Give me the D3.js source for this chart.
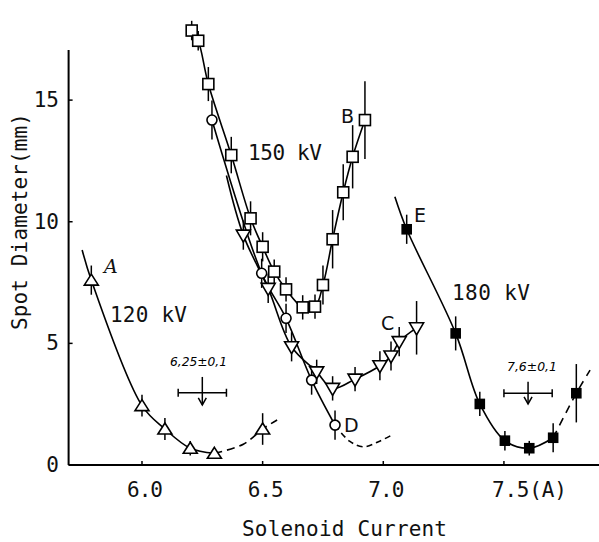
<!DOCTYPE html>
<html><head><meta charset="utf-8">
<script src="https://cdn.jsdelivr.net/npm/d3@7"></script>
<style>body{margin:0;background:#fff}</style>
</head><body>
<svg id="c" width="599" height="542"></svg>
<script>
// ---- axis ticks ----
const xTicks = [6.0, 6.5, 7.0, 7.5];
const xTickLabels = ["6.0", "6.5", "7.0", "7.5(A)"];
const yTicks = [0, 5, 10, 15];
const yTickLabels = ["0", "5", "10", "15"];

// ---- series A (120 kV, open up-triangles) ----
const aX   = [5.79, 6.00, 6.095, 6.20, 6.30, 6.50];
const aY   = [7.60, 2.44, 1.48, 0.69, 0.48, 1.48];
const aErr = [0.6, 0.45, 0.45, 0.3, 0.15, 0.65];
const aLineSolid = [[5.752, 8.84], [5.79, 7.60], [6.00, 2.44], [6.095, 1.48], [6.20, 0.69], [6.30, 0.48]];
const aLineDash  = [[6.30, 0.48], [6.42, 0.85], [6.50, 1.48], [6.56, 1.85]];

// ---- series B (150 kV, open squares) ----
const bX   = [6.206, 6.233, 6.275, 6.37, 6.45, 6.50, 6.548, 6.597, 6.666, 6.717, 6.75, 6.79, 6.834, 6.873, 6.924];
const bY   = [17.86, 17.44, 15.66, 12.74, 10.14, 8.97, 7.95, 7.22, 6.48, 6.51, 7.40, 9.28, 11.21, 12.67, 14.18];
const bErr = [0.4, 0.4, 0.7, 0.75, 0.7, 0.6, 0.5, 0.5, 0.5, 0.5, 0.8, 1.2, 1.15, 1.3, 1.6];

// ---- series C (150 kV, open down-triangles) ----
const cX   = [6.42, 6.523, 6.62, 6.724, 6.79, 6.883, 6.986, 7.032, 7.066, 7.138];
const cY   = [9.45, 7.26, 4.86, 3.83, 3.15, 3.53, 4.08, 4.48, 5.07, 5.64];
const cErr = [0.6, 0.6, 0.6, 0.5, 0.5, 0.5, 0.6, 0.6, 0.6, 1.1];
const cLineStart = [6.35, 11.9];

// ---- series D (150 kV, open circles) ----
const dX   = [6.29, 6.496, 6.597, 6.703, 6.80];
const dY   = [14.18, 7.88, 6.03, 3.49, 1.64];
const dErr = [0.8, 0.6, 0.6, 0.6, 0.6];
const dLineDash = [[6.80, 1.64], [6.86, 0.98], [6.917, 0.75], [6.98, 0.96], [7.035, 1.23]];

// ---- series E (180 kV, filled squares) ----
const eX   = [7.097, 7.30, 7.40, 7.504, 7.605, 7.704, 7.80];
const eY   = [9.69, 5.41, 2.51, 1.00, 0.69, 1.12, 2.95];
const eErr = [0.6, 0.7, 0.5, 0.4, 0.3, 0.6, 1.2];
const eLineStart = [7.048, 11.03];
const eLineDashEnd = [7.857, 3.9];

// ---- focus annotations [centre, ±, barY, arrowTop, arrowBottom] ----
const focusA = [6.25, 0.1, 2.97, 3.62, 2.47];
const focusE = [7.60, 0.1, 2.95, 3.42, 2.51];

const svg = d3.select("#c");
const x = d3.scaleLinear().domain([5.7, 7.894]).range([69.6, 599]);
const y = d3.scaleLinear().domain([0, 17.06]).range([465, 50]);
const MONO = "'DejaVu Sans Mono', monospace";

// axes
svg.append("line").attr("x1", x(5.7) - 1).attr("x2", 599).attr("y1", y(0)).attr("y2", y(0))
  .attr("stroke", "#000").attr("stroke-width", 2);
svg.append("line").attr("x1", x(5.7) - 1).attr("x2", x(5.7) - 1).attr("y1", y(0)).attr("y2", y(17.06))
  .attr("stroke", "#000").attr("stroke-width", 2);

xTicks.forEach((t, i) => {
  svg.append("line").attr("x1", x(t)).attr("x2", x(t)).attr("y1", y(0)).attr("y2", y(0) - 4)
    .attr("stroke", "#000").attr("stroke-width", 1.5);
  const lab = xTickLabels[i];
  const txt = svg.append("text").attr("y", 497).attr("font-family", MONO).attr("font-size", 21)
    .attr("fill", "#111").text(lab);
  if (lab.length > 3) txt.attr("x", x(t) - 12).attr("text-anchor", "start").attr("textLength", 75);
  else txt.attr("x", x(t) + 3).attr("text-anchor", "middle").attr("textLength", 36);
});
yTicks.forEach((t, i) => {
  svg.append("line").attr("x1", x(5.7) - 1).attr("x2", x(5.7) + 3).attr("y1", y(t)).attr("y2", y(t))
    .attr("stroke", "#000").attr("stroke-width", 1.5);
  svg.append("text").attr("x", 59).attr("y", y(t) + 7).attr("text-anchor", "end")
    .attr("font-family", MONO).attr("font-size", 21).attr("fill", "#111").text(yTickLabels[i]);
});

svg.append("text").attr("x", 242).attr("y", 536).attr("font-family", MONO).attr("font-size", 21)
  .attr("textLength", 205).attr("lengthAdjust", "spacing").attr("fill", "#111").text("Solenoid Current");
svg.append("text").attr("transform", "translate(27,330) rotate(-90)")
  .attr("font-family", MONO).attr("font-size", 21).attr("textLength", 217).attr("lengthAdjust", "spacing")
  .attr("fill", "#111").text("Spot Diameter(mm)");

// helpers
const pts = (xs, ys) => xs.map((v, i) => [v, ys[i]]);
const curve = d3.line().x(d => x(d[0])).y(d => y(d[1])).curve(d3.curveCatmullRom.alpha(0.5));
function drawLine(data, dash) {
  svg.append("path").attr("d", curve(data)).attr("fill", "none").attr("stroke", "#000")
    .attr("stroke-width", 1.6).attr("stroke-dasharray", dash || null);
}
function drawErr(xs, ys, es) {
  xs.forEach((v, i) => {
    svg.append("line").attr("x1", x(v)).attr("x2", x(v)).attr("y1", y(ys[i] - es[i])).attr("y2", y(ys[i] + es[i]))
      .attr("stroke", "#000").attr("stroke-width", 1.5);
  });
}
function markers(xs, ys, kind) {
  xs.forEach((v, i) => {
    const cx = x(v), cy = y(ys[i]);
    let el;
    if (kind === "tri") {
      el = svg.append("path").attr("d", `M${cx},${cy - 6}L${cx + 7},${cy + 5}L${cx - 7},${cy + 5}Z`);
    } else if (kind === "tridown") {
      el = svg.append("path").attr("d", `M${cx - 7},${cy - 5}L${cx + 7},${cy - 5}L${cx},${cy + 7}Z`);
    } else if (kind === "sq") {
      el = svg.append("rect").attr("x", cx - 5.5).attr("y", cy - 5.5).attr("width", 11).attr("height", 11);
    } else if (kind === "circ") {
      el = svg.append("circle").attr("cx", cx).attr("cy", cy).attr("r", 5);
    } else {
      el = svg.append("rect").attr("x", cx - 4.5).attr("y", cy - 4.5).attr("width", 9).attr("height", 9);
    }
    el.attr("fill", kind === "fsq" ? "#000" : "#fff").attr("stroke", "#000").attr("stroke-width", 1.6);
  });
}

// error bars
drawErr(aX, aY, aErr); drawErr(bX, bY, bErr); drawErr(cX, cY, cErr); drawErr(dX, dY, dErr); drawErr(eX, eY, eErr);

// lines
drawLine(aLineSolid); drawLine(aLineDash, "8,5");
drawLine(pts(bX, bY));
drawLine([cLineStart].concat(pts(cX, cY)));
drawLine(pts(dX, dY)); drawLine(dLineDash, "6,4");
const ePts = pts(eX, eY);
drawLine([eLineStart].concat(ePts.slice(0, 6)));
drawLine(ePts.slice(5).concat([eLineDashEnd]), "8,6");

// markers
markers(aX, aY, "tri"); markers(bX, bY, "sq"); markers(cX, cY, "tridown");
markers(dX, dY, "circ"); markers(eX, eY, "fsq");

// focus annotations
function focus(f, label, lx, lw) {
  const [c, pm, by, at, ab] = f;
  const g = svg.append("g").attr("stroke", "#000").attr("stroke-width", 1.5).attr("fill", "none");
  g.append("line").attr("x1", x(c - pm)).attr("x2", x(c + pm)).attr("y1", y(by)).attr("y2", y(by));
  g.append("line").attr("x1", x(c - pm)).attr("x2", x(c - pm)).attr("y1", y(by) - 4).attr("y2", y(by) + 4);
  g.append("line").attr("x1", x(c + pm)).attr("x2", x(c + pm)).attr("y1", y(by) - 4).attr("y2", y(by) + 4);
  g.append("line").attr("x1", x(c)).attr("x2", x(c)).attr("y1", y(at)).attr("y2", y(ab));
  g.append("path").attr("d", `M${x(c) - 4},${y(ab) - 7}L${x(c)},${y(ab)}L${x(c) + 4},${y(ab) - 7}`);
  svg.append("text").attr("x", lx).attr("y", y(at) - 11).attr("font-family", "'DejaVu Sans', sans-serif")
    .attr("font-style", "italic").attr("font-size", 12).attr("textLength", lw).attr("lengthAdjust", "spacingAndGlyphs")
    .attr("fill", "#000").text(label);
}
focus(focusA, "6,25±0,1", 170, 57);
focus(focusE, "7,6±0,1", 507, 50);

// text labels
const lbl = (t, lx, ly, opts) => {
  const e = svg.append("text").attr("x", lx).attr("y", ly).attr("fill", "#111").text(t);
  Object.entries(opts).forEach(([k, v]) => e.attr(k, v));
};
lbl("120 kV", 110, 322, {"font-family": MONO, "font-size": 21, "textLength": 77});
lbl("150 kV", 248, 160, {"font-family": MONO, "font-size": 21, "textLength": 74});
lbl("180 kV", 452, 300, {"font-family": MONO, "font-size": 21, "textLength": 78});
lbl("A", 104, 273, {"font-family": "'DejaVu Serif', serif", "font-style": "italic", "font-size": 19});
lbl("B", 341, 123, {"font-family": "'DejaVu Sans', sans-serif", "font-size": 19});
lbl("C", 381, 330, {"font-family": "'DejaVu Sans', sans-serif", "font-size": 19});
lbl("D", 344, 432, {"font-family": "'DejaVu Sans', sans-serif", "font-size": 19});
lbl("E", 414, 222, {"font-family": "'DejaVu Sans', sans-serif", "font-size": 19});
</script>
</body></html>
